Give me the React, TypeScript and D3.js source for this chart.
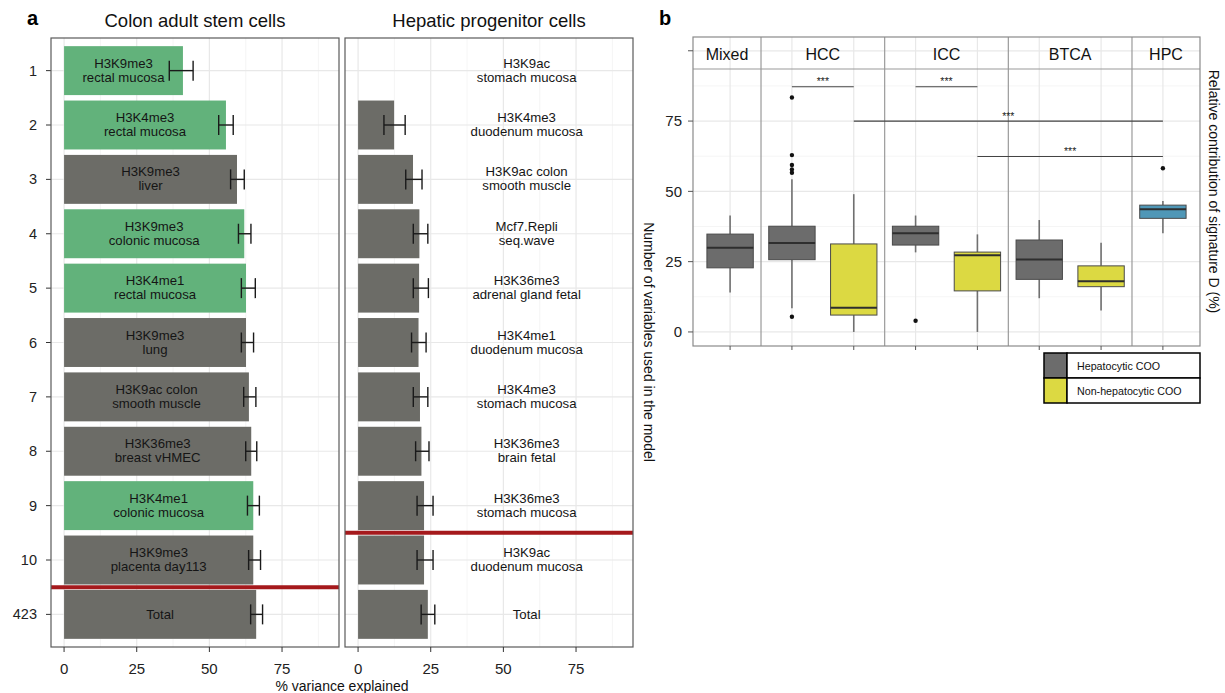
import * as d3 from 'd3';

const FONT = '"Liberation Sans", Arial, Helvetica, sans-serif';

// ---- panel a data ----
const rowIds = ['1', '2', '3', '4', '5', '6', '7', '8', '9', '10', '423'];

const colonLabels = [
  'H3K9me3\nrectal mucosa', 'H3K4me3\nrectal mucosa', 'H3K9me3\nliver', 'H3K9me3\ncolonic mucosa',
  'H3K4me1\nrectal mucosa', 'H3K9me3\nlung', 'H3K9ac colon\nsmooth muscle', 'H3K36me3\nbreast vHMEC',
  'H3K4me1\ncolonic mucosa', 'H3K9me3\nplacenta day113', 'Total',
];
const colonValues = [40.9, 55.7, 59.5, 62.0, 62.6, 62.6, 63.6, 64.4, 65.1, 65.1, 66.1];
const colonLow = [36.2, 53.2, 57.3, 60.0, 61.0, 61.0, 61.8, 62.5, 63.1, 63.5, 64.2];
const colonHigh = [44.4, 58.2, 62.0, 64.3, 65.8, 65.2, 66.0, 66.3, 67.2, 67.6, 68.3];
const colonTissue = [true, true, false, true, true, false, false, false, true, false, false];

const hepLabels = [
  'H3K9ac\nstomach mucosa', 'H3K4me3\nduodenum mucosa', 'H3K9ac colon\nsmooth muscle', 'Mcf7.Repli\nseq.wave',
  'H3K36me3\nadrenal gland fetal', 'H3K4me1\nduodenum mucosa', 'H3K4me3\nstomach mucosa', 'H3K36me3\nbrain fetal',
  'H3K36me3\nstomach mucosa', 'H3K9ac\nduodenum mucosa', 'Total',
];
const hepValues = [null, 12.4, 18.9, 21.1, 21.0, 20.8, 21.3, 21.8, 22.7, 22.7, 24.0];
const hepLow = [null, 8.9, 16.4, 19.0, 19.0, 18.4, 19.0, 19.8, 20.3, 20.3, 21.7];
const hepHigh = [null, 16.2, 22.0, 24.0, 24.2, 23.4, 24.0, 24.4, 25.8, 25.8, 26.4];

const xTicksA = [0, 25, 50, 75];
const xMinorA = [12.5, 37.5, 62.5, 87.5];

// ---- panel b data ----
const boxIds = ['Mixed.hep', 'HCC.hep', 'HCC.non', 'ICC.hep', 'ICC.non', 'BTCA.hep', 'BTCA.non', 'HPC.hpc'];
const boxFacet = ['Mixed', 'HCC', 'HCC', 'ICC', 'ICC', 'BTCA', 'BTCA', 'HPC'];
const boxCoo = ['hep', 'hep', 'non', 'hep', 'non', 'hep', 'non', 'hpc'];
// [lower whisker, q1, median, q3, upper whisker]
const boxStats = [
  [14.0, 22.8, 29.9, 34.8, 41.4],
  [8.4, 25.7, 31.6, 37.6, 54.3],
  [0.0, 6.0, 8.6, 31.3, 49.0],
  [28.3, 30.9, 35.1, 37.6, 41.4],
  [0.0, 14.6, 27.3, 28.4, 34.7],
  [12.0, 18.7, 25.8, 32.7, 39.8],
  [7.6, 16.1, 18.0, 23.5, 31.7],
  [35.1, 40.4, 43.6, 45.1, 46.6],
];
const boxOutliers = [[], [83.4, 62.9, 59.4, 57.8, 56.6, 5.4], [], [4.0], [], [], [], [58.2]];
const facetNames = ['Mixed', 'HCC', 'ICC', 'BTCA', 'HPC'];
const sigFrom = ['HCC.hep', 'ICC.hep', 'HCC.non', 'ICC.non'];
const sigTo = ['HCC.non', 'ICC.non', 'HPC.hpc', 'HPC.hpc'];
const sigY = [87.2, 87.2, 75, 62.4];
const yTicksB = [0, 25, 50, 75, 100];
const yMinorB = [12.5, 37.5, 62.5, 87.5];
const legendLabels = ['Hepatocytic COO', 'Non-hepatocytic COO'];

const GREEN = '#62b27b';
const GRAY_BAR = '#6c6c67';
const cooColor: Record<string, string> = { hep: '#6c6c6c', non: '#dcd942', hpc: '#4f97b7' };

const yA = d3.scalePoint<string>().domain(rowIds).range([38, 647]).padding(0.6);

const BarPanel = ({ left, right, title, labels, values, low, high, fills, labelAt, cut }: any) => {
  const x = d3.scaleLinear().domain([-4.5, 94.6]).range([left, right]);
  const step = yA.step();
  const bh = step * 0.9;
  const cutY = ((yA(rowIds[cut]) as number) + (yA(rowIds[cut + 1]) as number)) / 2;
  return (
    <g>
      <text x={(left + right) / 2} y={27} textAnchor="middle" fontSize={18.5} fill="#111">{title}</text>
      <rect x={left} y={38} width={right - left} height={609} fill="#fff" />
      {xMinorA.map((t) => (
        <line key={'m' + t} x1={x(t)} x2={x(t)} y1={38} y2={647} stroke="#f3f3f3" strokeWidth={0.8} />
      ))}
      {xTicksA.map((t) => (
        <line key={'M' + t} x1={x(t)} x2={x(t)} y1={38} y2={647} stroke="#e8e8e8" strokeWidth={1.2} />
      ))}
      {rowIds.map((r) => (
        <line key={'h' + r} x1={left} x2={right} y1={yA(r)} y2={yA(r)} stroke="#e8e8e8" strokeWidth={1.2} />
      ))}
      {rowIds.map((r, i) => {
        const cy = yA(r) as number;
        const v = values[i];
        const lines = labels[i].split('\n');
        const lx = labelAt === null ? x((v ?? 0) / 2) : x(labelAt);
        return (
          <g key={'b' + r}>
            {v !== null && (
              <rect x={x(0)} y={cy - bh / 2} width={x(v) - x(0)} height={bh} fill={fills[i]} />
            )}
            {v !== null && (
              <g stroke="#1a1a1a" strokeWidth={1.4}>
                <line x1={x(low[i])} x2={x(high[i])} y1={cy} y2={cy} />
                <line x1={x(low[i])} x2={x(low[i])} y1={cy - 10} y2={cy + 10} />
                <line x1={x(high[i])} x2={x(high[i])} y1={cy - 10} y2={cy + 10} />
              </g>
            )}
            {lines.map((l: string, k: number) => (
              <text key={k} x={lx} y={lines.length === 1 ? cy + 5 : cy - 3 + k * 14}
                textAnchor="middle" fontSize={13.2} fill="#151515">{l}</text>
            ))}
          </g>
        );
      })}
      <line x1={left} x2={right} y1={cutY} y2={cutY} stroke="#a5191c" strokeWidth={4} />
      <rect x={left} y={38} width={right - left} height={609} fill="none" stroke="#5a5a5a" strokeWidth={1.2} />
      {xTicksA.map((t) => (
        <g key={'t' + t}>
          <line x1={x(t)} x2={x(t)} y1={647} y2={652} stroke="#333" />
          <text x={x(t)} y={673.5} textAnchor="middle" fontSize={15} fill="#222">{t}</text>
        </g>
      ))}
    </g>
  );
};

const BoxPanel = () => {
  const L = 693, R = 1200, T = 37, B = 346;
  const x = d3.scalePoint<string>().domain(boxIds).range([L, R]).padding(0.6);
  const y = d3.scaleLinear().domain([-5, 104.9]).range([B, T]);
  const bw = x.step() * 0.75;
  const bounds: number[] = [];
  boxIds.forEach((id, i) => {
    if (i < boxIds.length - 1 && boxFacet[i] !== boxFacet[i + 1]) {
      bounds.push(((x(id) as number) + (x(boxIds[i + 1]) as number)) / 2);
    }
  });
  const edges = [L, ...bounds, R];
  return (
    <g>
      <text x={659} y={25} fontSize={20} fontWeight="bold" fill="#000">b</text>
      <rect x={L} y={T} width={R - L} height={B - T} fill="#fff" />
      {yMinorB.map((t) => (
        <line key={'m' + t} x1={L} x2={R} y1={y(t)} y2={y(t)} stroke="#f3f3f3" strokeWidth={0.8} />
      ))}
      {yTicksB.map((t) => (
        <line key={'M' + t} x1={L} x2={R} y1={y(t)} y2={y(t)} stroke="#e8e8e8" strokeWidth={1.2} />
      ))}
      {boxIds.map((id) => (
        <line key={'v' + id} x1={x(id)} x2={x(id)} y1={T} y2={B} stroke="#e8e8e8" strokeWidth={1.2} />
      ))}
      {bounds.map((b, i) => (
        <line key={'f' + i} x1={b} x2={b} y1={T} y2={B} stroke="#9a9a9a" strokeWidth={1.2} />
      ))}
      <line x1={L} x2={R} y1={69} y2={69} stroke="#9a9a9a" strokeWidth={1.2} />
      {facetNames.map((f, i) => (
        <text key={f} x={(edges[i] + edges[i + 1]) / 2} y={60} textAnchor="middle" fontSize={16} fill="#111">{f}</text>
      ))}
      {boxIds.map((id, i) => {
        const cx = x(id) as number;
        const [wl, q1, md, q3, wh] = boxStats[i];
        return (
          <g key={'box' + id}>
            <line x1={cx} x2={cx} y1={y(wh)} y2={y(q3)} stroke="#707070" strokeWidth={1.6} />
            <line x1={cx} x2={cx} y1={y(q1)} y2={y(wl)} stroke="#707070" strokeWidth={1.6} />
            <rect x={cx - bw / 2} y={y(q3)} width={bw} height={y(q1) - y(q3)} fill={cooColor[boxCoo[i]]} stroke="#4a4a4a" strokeWidth={1} />
            <line x1={cx - bw / 2} x2={cx + bw / 2} y1={y(md)} y2={y(md)} stroke="#2e2e2e" strokeWidth={2} />
            {boxOutliers[i].map((o, k) => (
              <circle key={k} cx={cx} cy={y(o)} r={2.2} fill="#111" />
            ))}
          </g>
        );
      })}
      {sigY.map((s, i) => {
        const x1 = x(sigFrom[i]) as number;
        const x2 = x(sigTo[i]) as number;
        return (
          <g key={'sig' + i}>
            <line x1={x1} x2={x2} y1={y(s)} y2={y(s)} stroke="#444" strokeWidth={1.2} />
            <text x={(x1 + x2) / 2} y={y(s) - 1.5} textAnchor="middle" fontSize={10.5} fill="#222">***</text>
          </g>
        );
      })}
      <rect x={L} y={T} width={R - L} height={B - T} fill="none" stroke="#8a8a8a" strokeWidth={1.2} />
      {yTicksB.map((t) => (
        <g key={'yt' + t}>
          <line x1={L - 5} x2={L} y1={y(t)} y2={y(t)} stroke="#555" />
          {t < 100 && (
            <text x={682} y={y(t)} dy="0.35em" textAnchor="end" fontSize={15} fill="#222">{t}</text>
          )}
        </g>
      ))}
      {boxIds.map((id) => (
        <line key={'xt' + id} x1={x(id)} x2={x(id)} y1={B} y2={B + 4} stroke="#555" />
      ))}
      <text transform={`translate(1209,${(T + B) / 2}) rotate(90)`} textAnchor="middle" fontSize={14} fill="#111">
        Relative contribution of signature D (%)
      </text>
      {legendLabels.map((lab, i) => {
        const ly = 353 + i * 25;
        return (
          <g key={lab}>
            <rect x={1044} y={ly} width={23} height={25} fill={i === 0 ? cooColor.hep : cooColor.non} stroke="#000" strokeWidth={1.5} />
            <rect x={1067} y={ly} width={133} height={25} fill="#fff" stroke="#000" strokeWidth={1.5} />
            <text x={1077} y={ly + 17} fontSize={10.7} fill="#111">{lab}</text>
          </g>
        );
      })}
    </g>
  );
};

export default function App() {
  const colonFills = colonTissue.map((c) => (c ? GREEN : GRAY_BAR));
  const hepFills = hepValues.map(() => GRAY_BAR);
  return (
    <div style={{ position: 'absolute', left: 0, top: 0 }}>
      <svg width={1225} height={693} style={{ display: 'block', fontFamily: FONT, background: '#fff' }}>
        <text x={27} y={25} fontSize={20} fontWeight="bold" fill="#000">a</text>
        {rowIds.map((r) => (
          <g key={'ya' + r}>
            <line x1={46} x2={51} y1={yA(r)} y2={yA(r)} stroke="#333" />
            <text x={37} y={yA(r)} dy="0.35em" textAnchor="end" fontSize={14.5} fill="#222">{r}</text>
          </g>
        ))}
        <BarPanel left={51} right={339} title="Colon adult stem cells" labels={colonLabels} values={colonValues}
          low={colonLow} high={colonHigh} fills={colonFills} labelAt={null} cut={9} />
        <BarPanel left={345} right={633} title="Hepatic progenitor cells" labels={hepLabels} values={hepValues}
          low={hepLow} high={hepHigh} fills={hepFills} labelAt={58} cut={8} />
        <text x={342} y={691} textAnchor="middle" fontSize={14} fill="#111">% variance explained</text>
        <text transform="translate(644,342) rotate(90)" textAnchor="middle" fontSize={14} fill="#111">
          Number of variables used in the model
        </text>
        <BoxPanel />
      </svg>
    </div>
  );
}
